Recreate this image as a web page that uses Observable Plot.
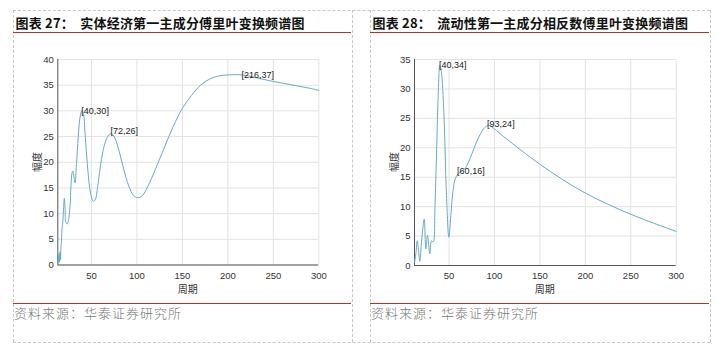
<!DOCTYPE html>
<html>
<head>
<meta charset="utf-8">
<script src="https://cdn.jsdelivr.net/npm/d3@7"></script>
<script src="https://cdn.jsdelivr.net/npm/@observablehq/plot@0.6"></script>
<style>
  html, body { margin: 0; padding: 0; background: #fff; }
  #root { position: relative; width: 716px; height: 353px; overflow: hidden; font-family: "Noto Sans CJK SC", sans-serif; }
  .dashH { position: absolute; height: 0; border-top: 1px dashed #c8c8c8; }
  .dashV { position: absolute; width: 0; border-left: 1px dashed #c8c8c8; }
  .red { position: absolute; height: 0; border-top: 1.5px solid #b8321f; }
  .title { position: absolute; font-size: 13px; font-weight: bold; color: #111; line-height: 17px; white-space: pre; letter-spacing: 0.2px; }
  .src { position: absolute; font-size: 13px; color: #777; line-height: 16px; white-space: pre; letter-spacing: 1px; font-weight: 300; }
  .xlab { position: absolute; font-size: 10px; color: #333; line-height: 12px; transform: translateX(-50%); }
  .ylab { position: absolute; font-size: 10px; color: #333; line-height: 12px; transform: translate(-50%, -50%) rotate(-90deg); }
  svg { position: absolute; overflow: visible; }
</style>
</head>
<body>
<div id="root"></div>
<script>
// ---------- Data ----------
const titles = ["图表 27：  实体经济第一主成分傅里叶变换频谱图", "图表 28：  流动性第一主成分相反数傅里叶变换频谱图"];
const sourceText = "资料来源：华泰证券研究所";
const xLabel = "周期";
const yLabel = "幅度";

const xTicks = [50, 100, 150, 200, 250, 300];
const econYTicks = [0, 5, 10, 15, 20, 25, 30, 35, 40];
const liqYTicks = [0, 5, 10, 15, 20, 25, 30, 35];

// Chart 27: real economy, first principal component spectrum
const econPeriod = [13, 13.5, 14, 14.5, 15, 15.5, 16, 16.5, 17, 17.8, 18.5, 19.2, 20.2, 21, 22, 23.5, 25, 26.5, 27.5, 28.5, 29.5, 30.5, 32, 33.5, 35.5, 37.5, 39.5, 41, 43, 46, 49, 52, 54, 57, 61, 65, 69, 72, 76, 81, 86, 91, 96, 101, 106, 112, 120, 130, 140, 150, 160, 170, 180, 190, 200, 216, 230, 245, 260, 275, 290, 300];
const econAmp    = [0.3, 1.8, 0.5, 2.2, 0.6, 2.6, 1.0, 3.5, 4.6, 7.5, 8.3, 10.5, 13.0, 11.0, 8.2, 8.0, 9.0, 11.5, 15.5, 17.8, 18.3, 17.5, 16.0, 19.5, 25.0, 28.8, 30.0, 29.6, 25.5, 18.5, 14.0, 12.4, 12.6, 15.5, 20.5, 23.8, 25.3, 25.6, 24.6, 21.8, 18.3, 15.4, 13.6, 13.1, 13.5, 15.3, 18.5, 22.8, 27.0, 30.5, 33.0, 35.0, 36.2, 36.8, 37.0, 37.0, 36.5, 35.9, 35.4, 34.9, 34.4, 34.0];
const econTipX = [40, 72, 216];
const econTipY = [30, 26, 37];

// Chart 28: liquidity, negated first principal component spectrum
const liqPeriod = [12, 13.5, 15, 16.5, 17.8, 20, 22.7, 24.4, 26.3, 28.9, 30.7, 32.6, 34.5, 36.2, 38, 39.9, 41.5, 44.3, 47.2, 49.8, 52, 54.6, 57, 60.1, 64, 68.2, 73.7, 79, 84.7, 89, 93.8, 100, 110, 120, 130, 150, 175, 200, 225, 250, 275, 300];
const liqAmp    = [0.5, 2.0, 4.2, 2.5, 0.7, 4.5, 7.9, 2.8, 5.1, 2.0, 4.2, 4.0, 10.0, 18.7, 28.5, 34.0, 33.0, 26.0, 11.9, 4.8, 8.5, 13.0, 14.8, 15.6, 16.0, 16.6, 18.4, 20.5, 22.4, 23.4, 23.8, 23.2, 21.9, 20.7, 19.5, 17.2, 14.6, 12.3, 10.4, 8.7, 7.2, 5.8];
const liqTipX = [40, 60, 93];
const liqTipY = [34, 16, 24];

// ---------- Layout ----------
const root = document.getElementById("root");
function el(cls, style, text) {
  const d = document.createElement("div");
  d.className = cls;
  Object.assign(d.style, style);
  if (text != null) d.textContent = text;
  root.appendChild(d);
  return d;
}
// dashed frame
el("dashH", {left: "13px", top: "10px", width: "697px"});
el("dashH", {left: "13px", top: "342px", width: "697px"});
el("dashV", {left: "13px", top: "10px", height: "332px"});
el("dashV", {left: "352px", top: "10px", height: "332px"});
el("dashV", {left: "370px", top: "10px", height: "332px"});
el("dashV", {left: "710px", top: "10px", height: "332px"});

const panels = [
  {x: 13, w: 338, svgX: 12, mL: 45.3, mR: 33.7, mB: 35.5, xmin: 13, ymax: 40, yticks: econYTicks, px: econPeriod, py: econAmp, tx: econTipX, ty: econTipY, ylabX: 37},
  {x: 370, w: 339, svgX: 370, mL: 44, mR: 34.3, mB: 35, xmin: 12, ymax: 35, yticks: liqYTicks, px: liqPeriod, py: liqAmp, tx: liqTipX, ty: liqTipY, ylabX: 394}
];

panels.forEach((p, i) => {
  el("title", {left: (p.x + 2.5) + "px", top: "14px"}, titles[i]);
  el("red", {left: p.x + "px", top: "31.5px", width: p.w + "px"});
  el("red", {left: p.x + "px", top: "302.5px", width: p.w + "px"});
  el("src", {left: (p.x + 1) + "px", top: "305px"}, sourceText);

  const W = 340, H = 265;
  const line = p.px.map((x, k) => ({x, y: p.py[k]}));
  const tips = p.tx.map((x, k) => ({x, y: p.ty[k], t: `[${x},${p.ty[k]}]`}));
  const chart = Plot.plot({
    width: W,
    height: H,
    marginLeft: p.mL,
    marginRight: p.mR,
    marginTop: 24,
    marginBottom: p.mB,
    style: {fontFamily: "'Liberation Sans', Arial, sans-serif", fontSize: "9.5px", color: "#333", background: "transparent"},
    x: {domain: [p.xmin, 300], ticks: xTicks},
    y: {domain: [0, p.ymax], ticks: p.yticks},
    marks: [
      Plot.gridX(xTicks, {stroke: "#e3e3e3", strokeOpacity: 1}),
      Plot.gridY(p.yticks, {stroke: "#e3e3e3", strokeOpacity: 1}),
      Plot.axisX(xTicks, {tickSize: 0, tickPadding: 7, label: null, fill: "#333"}),
      Plot.axisY(p.yticks, {tickSize: 0, tickPadding: 4, label: null, fill: "#333"}),
      Plot.ruleY([0], {stroke: "#555", strokeWidth: 1}),
      Plot.ruleX([p.xmin], {stroke: "#555", strokeWidth: 1}),
      Plot.line(line, {x: "x", y: "y", curve: "catmull-rom", stroke: "#68aac8", strokeWidth: 1}),
      Plot.text(tips, {x: "x", y: "y", text: "t", textAnchor: "start", fill: "#222", fontSize: 9, dx: -1})
    ]
  });
  chart.style.left = p.svgX + "px";
  chart.style.top = "35px";
  root.appendChild(chart);

  const plotCenter = p.svgX + p.mL + (W - p.mL - p.mR) / 2;
  el("xlab", {left: plotCenter + "px", top: "283px"}, xLabel);
  el("ylab", {left: p.ylabX + "px", top: "162px"}, yLabel);
});
</script>
</body>
</html>
